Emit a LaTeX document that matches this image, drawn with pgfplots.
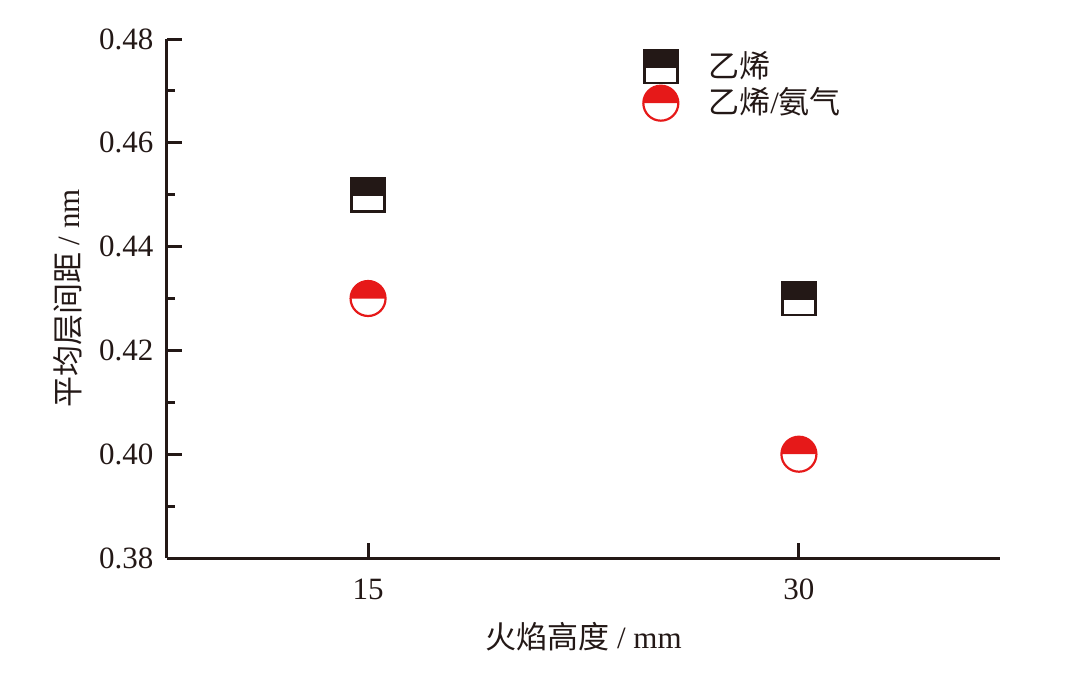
\documentclass[border=0pt]{standalone}
\usepackage{fontspec}
\setmainfont{Liberation Serif}
\newfontfamily\cjk{Noto Sans CJK SC}
\usepackage{pgfplots}
\pgfplotsset{compat=1.18}

\definecolor{ink}{HTML}{231816}
\definecolor{cred}{HTML}{E61919}

% half-filled square: top half filled
\pgfdeclareplotmark{halfsq}{%
  \pgfpathrectangle{\pgfpoint{-\pgfplotmarksize}{-0.1\pgfplotmarksize}}{\pgfpoint{2\pgfplotmarksize}{1.1\pgfplotmarksize}}%
  \pgfusepathqfill
  \pgfpathrectangle{\pgfpoint{-\pgfplotmarksize}{-\pgfplotmarksize}}{\pgfpoint{2\pgfplotmarksize}{2\pgfplotmarksize}}%
  \pgfusepathqstroke}
% half-filled circle: top half filled
\pgfdeclareplotmark{halfci}{%
  \pgfpathmoveto{\pgfpoint{\pgfplotmarksize}{0pt}}%
  \pgfpatharc{0}{180}{\pgfplotmarksize}%
  \pgfpathclose
  \pgfusepathqfill
  \pgfpathcircle{\pgfpointorigin}{\pgfplotmarksize}%
  \pgfusepathqstroke}

\begin{document}
\begin{tikzpicture}
\fontsize{31}{37}\selectfont
\begin{axis}[
    at={(0,0)}, anchor=south west,
    scale only axis,
    width=833pt, height=519pt,
    xmin=8, xmax=37,
    ymin=0.38, ymax=0.48,
    xtick={15,30},
    ytick={0.38,0.40,...,0.481},
    minor y tick num=1,
    axis x line*=bottom, axis y line*=left,
    axis line style={ink, line width=3pt, -},
    tick style={ink, line width=3pt},
    major tick length=15pt, minor tick length=8pt,
    tick align=inside,
    yticklabel style={xshift=-3pt, /pgf/number format/.cd, fixed, fixed zerofill, precision=2},
    /pgf/number format/assume math mode=true,
    tick label style={font=\fontsize{31}{37}\selectfont, text=ink},
    xticklabel style={yshift=-10pt},
    xlabel={{\cjk 火焰高度} / mm},
    ylabel={{\cjk 平均层间距} / nm},
    label style={font=\fontsize{31}{37}\selectfont, text=ink},
    xlabel style={yshift=-2pt},
    ylabel style={yshift=-4pt},
    legend style={at={(0.568,0.985)}, anchor=north west, draw=none, fill=none,
      font=\fontsize{31}{37}\selectfont, text=ink, row sep=2pt},
    legend cell align=left,
    clip=false,
]
\addplot[only marks, mark=halfsq, mark size=16.5pt, line width=2.6pt,
  mark options={draw=ink, fill=ink}] coordinates {(15,0.45) (30,0.43)};
\addlegendentry{\hspace{28pt}\cjk 乙烯}
\addplot[only marks, mark=halfci, mark size=17.5pt, line width=2.2pt,
  mark options={draw=cred, fill=cred}] coordinates {(15,0.43) (30,0.40)};
\addlegendentry{\hspace{28pt}{\cjk 乙烯}/{\cjk 氨气}}
\end{axis}
\path[use as bounding box] (-167pt,-115pt) rectangle (905pt,558pt);
\end{tikzpicture}
\end{document}
